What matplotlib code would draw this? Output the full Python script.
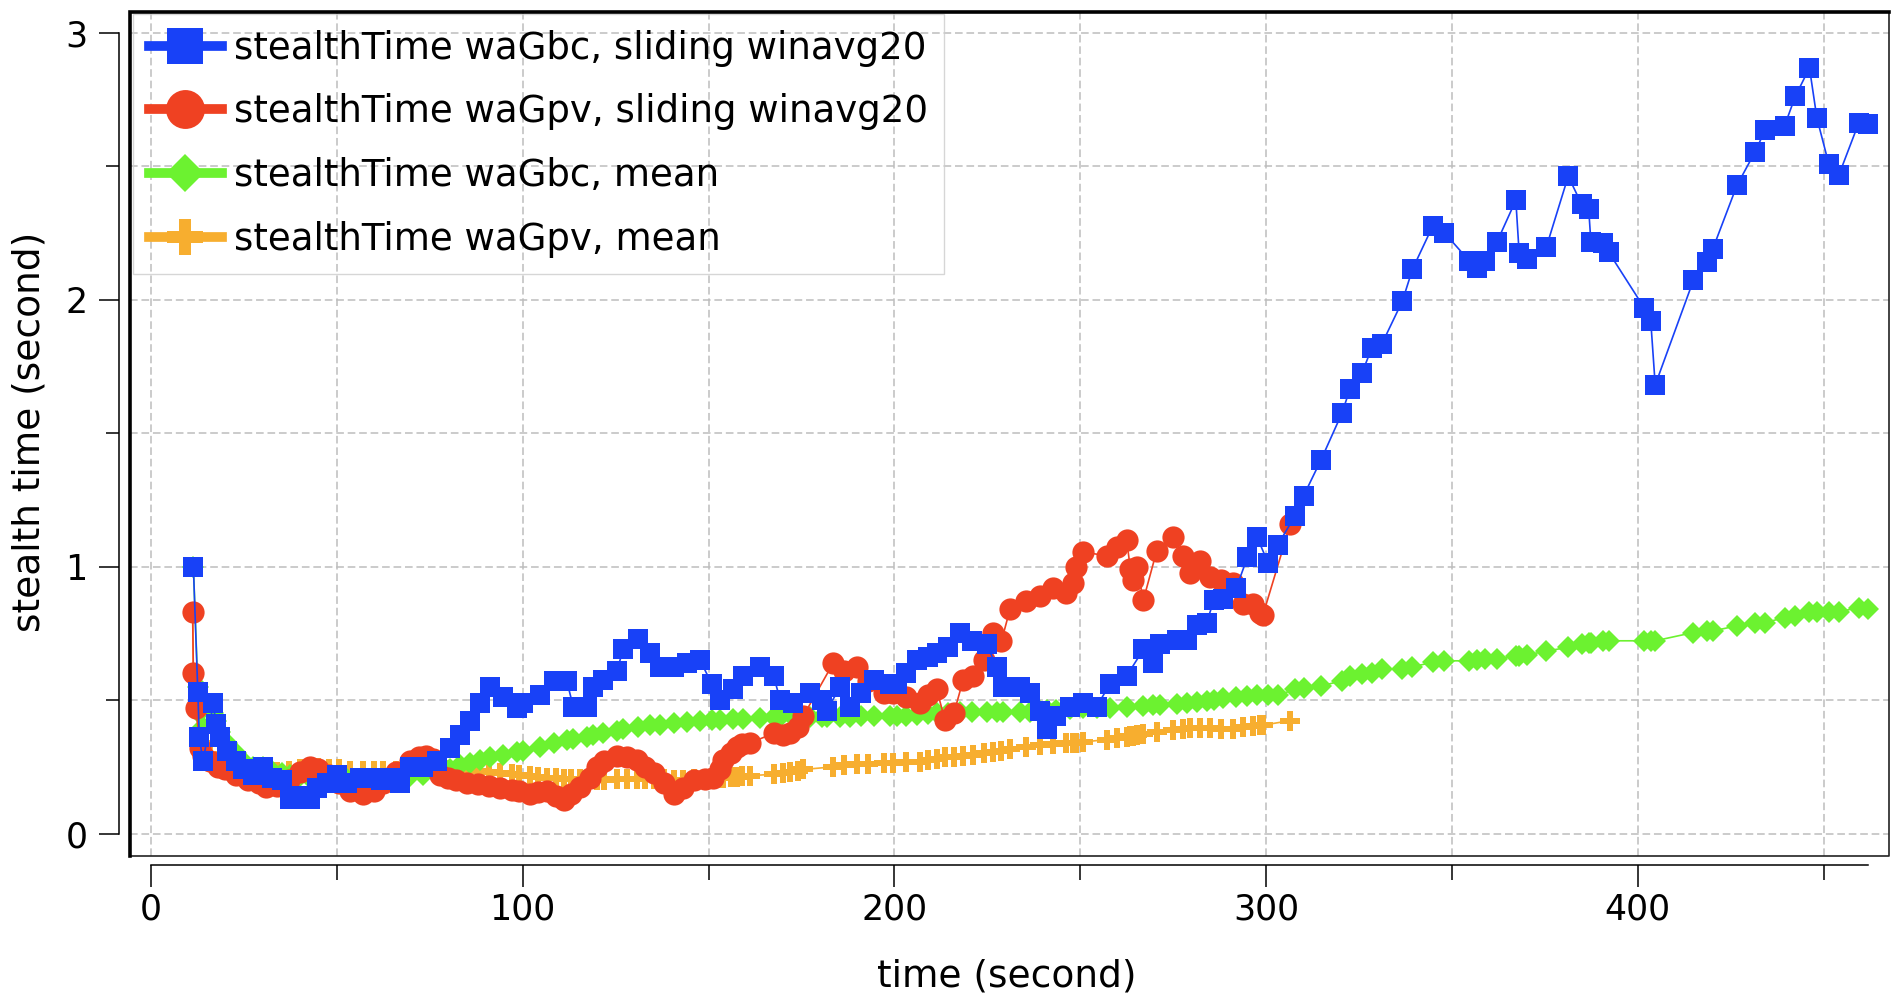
import matplotlib
matplotlib.use('Agg')
import matplotlib.pyplot as plt
from matplotlib.lines import Line2D
from matplotlib.ticker import MultipleLocator

plt.rcParams['font.family'] = ['DejaVu Sans']

# waGbc 采样时间 (蓝 / 绿 共用)
gbc_t = [11.4, 12.6, 13.0, 14.0, 16.8, 17.4, 18.6, 20.4, 22.9, 24.8, 27.5, 30.2, 32.5, 35.2,
         37.4, 40.0, 42.8, 44.6, 47.3, 50.0, 52.6, 56.2, 59.8, 62.0, 64.3, 67.0, 69.7, 73.3,
         76.9, 80.5, 83.1, 85.8, 88.5, 91.2, 94.8, 98.4, 100.2, 104.7, 108.3, 111.9, 113.6,
         117.2, 119.0, 121.7, 125.3, 127.1, 131.1, 134.3, 137.0, 140.6, 144.1, 147.7, 150.9,
         153.1, 156.7, 159.4, 163.9, 167.5, 169.3, 172.8, 177.3, 180.5, 181.8, 185.4, 188.1,
         191.0, 194.4, 198.9, 200.6, 203.0, 206.0, 209.0, 211.4, 214.5, 217.6, 221.0, 224.8,
         227.5, 229.3, 233.8, 236.5, 239.2, 241.0, 243.6, 247.2, 250.8, 254.4, 258.0, 262.5,
         267.0, 269.7, 271.4, 276.0, 278.6, 281.3, 284.0, 286.0, 288.5, 292.0, 295.0, 297.6,
         300.5, 303.1, 307.8, 310.1, 314.8, 320.4, 322.6, 325.8, 328.5, 331.2, 336.7, 339.4,
         344.8, 348.0, 354.6, 356.7, 358.9, 362.1, 367.2, 368.1, 370.1, 375.4, 381.3, 384.9,
         386.8, 387.4, 390.7, 392.2, 401.7, 403.5, 404.7, 415.0, 418.5, 420.2, 426.7, 431.6,
         434.3, 439.5, 442.4, 446.2, 448.2, 451.4, 454.1, 459.5, 461.9]

gbc_win = [1.00, 0.53, 0.36, 0.27, 0.49, 0.41, 0.36, 0.31, 0.27, 0.24, 0.22, 0.25, 0.21, 0.20,
           0.13, 0.14, 0.13, 0.17, 0.19, 0.22, 0.19, 0.21, 0.21, 0.20, 0.21, 0.19, 0.25, 0.25,
           0.27, 0.32, 0.37, 0.42, 0.49, 0.55, 0.51, 0.47, 0.49, 0.52, 0.57, 0.57, 0.475,
           0.475, 0.55, 0.575, 0.61, 0.69, 0.73, 0.675, 0.625, 0.625, 0.64, 0.65, 0.56,
           0.50, 0.54, 0.59, 0.625, 0.59, 0.50, 0.49, 0.525, 0.50, 0.46, 0.55, 0.475,
           0.525, 0.575, 0.56, 0.56, 0.60, 0.65, 0.66, 0.675, 0.70, 0.75, 0.72, 0.71,
           0.625, 0.55, 0.55, 0.525, 0.46, 0.39, 0.44, 0.475, 0.49, 0.475, 0.56, 0.59,
           0.69, 0.64, 0.71, 0.725, 0.725, 0.78, 0.79, 0.875, 0.88, 0.92, 1.035, 1.11,
           1.015, 1.08, 1.19, 1.265, 1.40, 1.574, 1.666, 1.725, 1.82, 1.835, 1.995, 2.114,
           2.274, 2.25, 2.146, 2.12, 2.146, 2.215, 2.372, 2.173, 2.152, 2.196, 2.462, 2.357,
           2.34, 2.215, 2.211, 2.177, 1.97, 1.92, 1.68, 2.073, 2.14, 2.19, 2.428, 2.554,
           2.636, 2.651, 2.761, 2.868, 2.68, 2.508, 2.466, 2.663, 2.658]

gbc_mean = [1.00, 0.55, 0.45, 0.40, 0.45, 0.42, 0.38, 0.34, 0.30, 0.27, 0.25, 0.25, 0.235, 0.225,
            0.22, 0.215, 0.21, 0.205, 0.205, 0.205, 0.205, 0.205, 0.205, 0.205, 0.21, 0.21, 0.215, 0.22,
            0.225, 0.24, 0.255, 0.265, 0.275, 0.285, 0.295, 0.305, 0.31, 0.325, 0.338, 0.35, 0.355,
            0.363, 0.368, 0.375, 0.385, 0.39, 0.398, 0.405, 0.408, 0.413, 0.419, 0.422, 0.425,
            0.426, 0.428, 0.43, 0.432, 0.435, 0.436, 0.438, 0.436, 0.435, 0.435, 0.437, 0.438,
            0.44, 0.44, 0.44, 0.44, 0.442, 0.445, 0.448, 0.45, 0.453, 0.456, 0.456, 0.456,
            0.456, 0.456, 0.456, 0.457, 0.46, 0.462, 0.464, 0.466, 0.469, 0.47, 0.472, 0.475,
            0.478, 0.48, 0.482, 0.487, 0.49, 0.494, 0.498, 0.502, 0.506, 0.51, 0.516, 0.518,
            0.52, 0.518, 0.54, 0.547, 0.553, 0.572, 0.591, 0.597, 0.603, 0.616, 0.616, 0.625,
            0.641, 0.647, 0.647, 0.65, 0.652, 0.653, 0.666, 0.666, 0.668, 0.684, 0.697, 0.71,
            0.712, 0.713, 0.72, 0.722, 0.722, 0.722, 0.722, 0.753, 0.757, 0.759, 0.778, 0.79,
            0.79, 0.809, 0.815, 0.828, 0.828, 0.83, 0.831, 0.846, 0.84]

# waGpv 采样时间 (红 / 橙 共用)
gpv_t = [11.2, 11.4, 12.1, 13.2, 14.0, 16.0, 18.0, 20.0, 23.0, 26.0, 29.0, 31.0, 34.0, 37.0,
         40.0, 42.8, 45.0, 48.0, 50.5, 53.5, 57.0, 60.0, 62.5, 66.0, 69.7, 72.0, 74.0, 76.0,
         77.8, 80.0, 82.0, 85.0, 88.0, 91.0, 94.0, 97.0, 99.0, 102.0, 104.0, 106.5, 109.0,
         111.0, 113.0, 115.4, 118.0, 119.9, 122.0, 125.3, 128.0, 130.7, 133.0, 135.2, 138.0,
         140.6, 143.0, 146.0, 149.0, 151.3, 153.0, 154.0, 156.0, 157.6, 159.0, 161.2, 167.5,
         170.0, 172.0, 174.0, 175.5, 183.6, 186.5, 189.9, 193.0, 197.1, 199.7, 203.0, 206.9,
         209.0, 211.4, 213.6, 216.0, 218.5, 221.2, 224.0, 226.6, 228.8, 231.1, 235.5, 239.2,
         242.7, 246.3, 248.1, 249.0, 250.8, 257.1, 259.8, 262.5, 263.5, 264.3, 265.2, 267.0,
         270.6, 275.0, 277.7, 279.5, 282.2, 284.9, 288.0, 291.2, 293.9, 296.4, 298.4, 299.2,
         306.5]

gpv_win = [0.83, 0.60, 0.47, 0.32, 0.29, 0.27, 0.25, 0.24, 0.22, 0.20, 0.19, 0.175, 0.18, 0.20,
           0.23, 0.25, 0.24, 0.22, 0.19, 0.16, 0.15, 0.16, 0.19, 0.23, 0.27, 0.285, 0.29, 0.28,
           0.22, 0.21, 0.20, 0.19, 0.185, 0.18, 0.17, 0.165, 0.16, 0.15, 0.155, 0.16, 0.14,
           0.125, 0.15, 0.175, 0.21, 0.25, 0.27, 0.29, 0.285, 0.275, 0.25, 0.225, 0.19,
           0.15, 0.17, 0.20, 0.205, 0.21, 0.24, 0.275, 0.30, 0.325, 0.335, 0.34, 0.375,
           0.37, 0.375, 0.40, 0.44, 0.64, 0.61, 0.625, 0.57, 0.525, 0.525, 0.51, 0.49,
           0.52, 0.54, 0.425, 0.45, 0.575, 0.59, 0.65, 0.75, 0.72, 0.84, 0.87, 0.89,
           0.92, 0.90, 0.94, 1.00, 1.055, 1.04, 1.075, 1.10, 0.99, 0.95, 1.00, 0.875,
           1.06, 1.11, 1.04, 0.975, 1.02, 0.96, 0.95, 0.94, 0.86, 0.86, 0.825, 0.82,
           1.158]

gpv_mean = [0.83, 0.60, 0.47, 0.34, 0.31, 0.29, 0.27, 0.26, 0.25, 0.24, 0.235, 0.23, 0.23, 0.235,
            0.24, 0.245, 0.245, 0.24, 0.24, 0.235, 0.235, 0.235, 0.235, 0.235, 0.235, 0.238, 0.24, 0.24,
            0.24, 0.238, 0.236, 0.235, 0.234, 0.232, 0.228, 0.224, 0.22, 0.215, 0.213, 0.21, 0.208,
            0.206, 0.205, 0.204, 0.203, 0.202, 0.202, 0.203, 0.203, 0.204, 0.204, 0.204, 0.203,
            0.202, 0.202, 0.203, 0.204, 0.205, 0.207, 0.208, 0.211, 0.213, 0.215, 0.217, 0.222,
            0.225, 0.23, 0.235, 0.24, 0.25, 0.255, 0.26, 0.262, 0.264, 0.265, 0.267, 0.269,
            0.275, 0.28, 0.285, 0.288, 0.29, 0.295, 0.30, 0.306, 0.31, 0.316, 0.325, 0.331,
            0.335, 0.338, 0.34, 0.341, 0.343, 0.352, 0.358, 0.363, 0.365, 0.367, 0.369, 0.373,
            0.381, 0.388, 0.392, 0.394, 0.394, 0.394, 0.39, 0.392, 0.398, 0.402, 0.405, 0.406,
            0.423]

labels = ['stealthTime waGbc, sliding winavg20', 'stealthTime waGpv, sliding winavg20',
          'stealthTime waGbc, mean', 'stealthTime waGpv, mean']

blue = '#1841f7'
red = '#ef4122'
green = '#6cf230'
orange = '#f7ae2f'

fig = plt.figure(figsize=(18.94, 9.94), dpi=100)
ax = fig.add_axes([130 / 1894, 1 - 856 / 994, 1759 / 1894, 844 / 994])

# 画线 (橙 -> 绿 -> 红 -> 蓝, 蓝在最上)
ax.plot(gpv_t, gpv_mean, color=orange, lw=1.2, marker='P', ms=15, mew=0, zorder=3)
ax.plot(gbc_t, gbc_mean, color=green, lw=1.2, marker='D', ms=11.5, mew=0, zorder=4)
ax.plot(gpv_t, gpv_win, color=red, lw=1.2, marker='o', ms=16, mew=0, zorder=5)
ax.plot(gbc_t, gbc_win, color=blue, lw=1.2, marker='s', ms=15, mew=0, zorder=6)

ax.set_xlim(-5.65, 467.6)
ax.set_ylim(-0.084, 3.077)

ax.xaxis.set_major_locator(MultipleLocator(100))
ax.xaxis.set_minor_locator(MultipleLocator(50))
ax.yaxis.set_major_locator(MultipleLocator(1))
ax.yaxis.set_minor_locator(MultipleLocator(0.5))

ax.grid(True, which='both', color='#bdbdbd', lw=1.1, ls=(0, (5, 2.5)), zorder=1)
ax.set_axisbelow(True)

# 坐标轴: 与外框分开
for s in ['top', 'right']:
    ax.spines[s].set_visible(False)
ax.spines['left'].set_position(('outward', 8))
ax.spines['bottom'].set_position(('outward', 6.5))
ax.spines['left'].set_bounds(0, 3)
ax.spines['bottom'].set_bounds(0, 462)
ax.spines['left'].set_linewidth(1.1)
ax.spines['bottom'].set_linewidth(1.1)

# 外框
ax.add_line(Line2D([0, 1, 1, 0], [1, 1, 0, 0], transform=ax.transAxes, color='#222222',
                   lw=1.2, clip_on=False, zorder=10))
ax.add_line(Line2D([0, 0, 1], [0, 1, 1], transform=ax.transAxes, color='black',
                   lw=2.6, clip_on=False, zorder=10, solid_joinstyle='miter'))

ax.tick_params(axis='y', which='major', length=14.4, width=1.1, labelsize=25, pad=8)
ax.tick_params(axis='y', which='minor', length=9.4, width=1.1)
ax.tick_params(axis='x', which='major', length=15.8, width=1.1, labelsize=25, pad=4)
ax.tick_params(axis='x', which='minor', length=10.8, width=1.1)

ax.set_xlabel('time (second)', fontsize=27, va='center')
ax.xaxis.set_label_coords(0.4985, -0.143)
ax.set_ylabel('stealth time (second)', fontsize=27, va='center')
ax.yaxis.set_label_coords(-0.0569, 0.502)

# 图例
handles = [
    Line2D([], [], color=blue, lw=7, marker='s', ms=26, mew=0),
    Line2D([], [], color=red, lw=7, marker='o', ms=28, mew=0),
    Line2D([], [], color=green, lw=7, marker='D', ms=19, mew=0),
    Line2D([], [], color=orange, lw=7, marker='P', ms=26, mew=0),
]
leg = ax.legend(handles, labels, loc='upper left', bbox_to_anchor=(0.0017, 0.998),
                borderaxespad=0, borderpad=0.43, labelspacing=0.72, handlelength=1.97,
                handletextpad=0.32, fontsize=26.7, fancybox=False)
leg.get_frame().set_facecolor('none')
leg.get_frame().set_edgecolor('#cccccc')
leg.get_frame().set_linewidth(1.0)

fig.savefig('out.png', dpi=100)
